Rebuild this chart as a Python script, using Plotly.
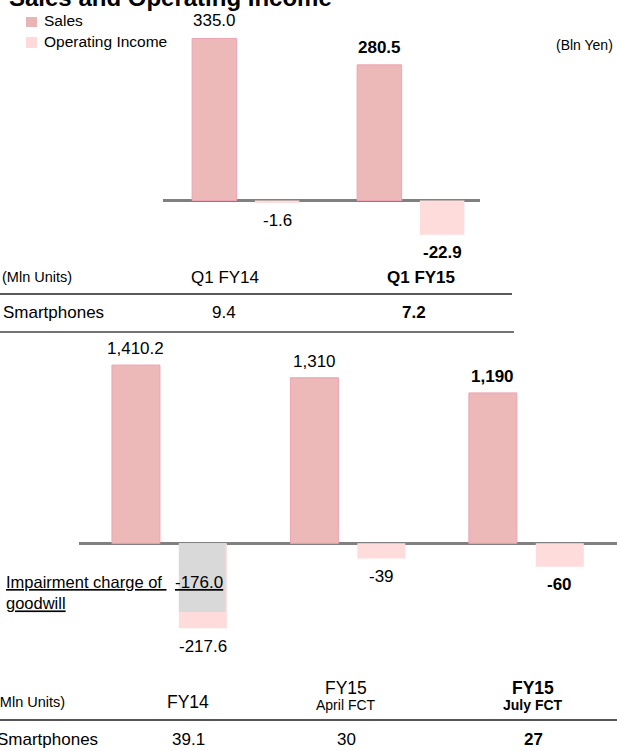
import plotly.graph_objects as go

W, H = 617, 751
FONT = "Liberation Sans, Arial, sans-serif"

# Quarterly results (Bln Yen) and unit sales (Mln Units)
q_periods = ["Q1 FY14", "Q1 FY15"]
q_sales = [335.0, 280.5]
q_op_income = [-1.6, -22.9]
q_decimals = [1, 1]
q_bold = [False, True]
q_smartphones = [9.4, 7.2]

# Full-year results and forecasts (Bln Yen) and unit sales (Mln Units)
fy_periods = ["FY14", "FY15 April FCT", "FY15 July FCT"]
fy_head = ["FY14", "FY15", "FY15"]
fy_sub = ["", "April FCT", "July FCT"]
fy_sales = [1410.2, 1310, 1190]
fy_op_income = [-217.6, -39, -60]
fy_impairment = [-176.0, None, None]
fy_decimals = [1, 0, 0]
fy_bold = [False, False, True]
fy_smartphones = [39.1, 30, 27]

SALES_COLOR = "#ecb8b8"
SALES_EDGE = "#eda4b4"
OI_COLOR = "#ffdcdc"
IMPAIR_COLOR = "#d9d9d9"
TEXT = "#000000"


def px(x):
    return x / W


def py(y):
    return 1 - y / H


def fmt(v, d, bold=False, underline=False):
    s = f"{v:,.{d}f}"
    if underline:
        s = f"<u>{s}</u>"
    return f"<b>{s}</b>" if bold else s


fig = go.Figure()

# --- quarterly bars ---
fig.add_trace(go.Bar(x=q_periods, y=q_sales, xaxis="x", yaxis="y",
                     width=0.27, offset=-0.325,
                     marker=dict(color=SALES_COLOR, line=dict(color=SALES_EDGE, width=1))))
fig.add_trace(go.Bar(x=q_periods, y=q_op_income, xaxis="x", yaxis="y2",
                     width=0.27, offset=0.055,
                     marker=dict(color=OI_COLOR, line=dict(width=0))))

# --- full-year bars ---
fig.add_trace(go.Bar(x=fy_periods, y=fy_sales, xaxis="x2", yaxis="y3",
                     width=0.269, offset=-0.322,
                     marker=dict(color=SALES_COLOR, line=dict(color=SALES_EDGE, width=1))))
fig.add_trace(go.Bar(x=fy_periods, y=fy_op_income, xaxis="x2", yaxis="y4",
                     width=0.269, offset=0.053,
                     marker=dict(color=OI_COLOR, line=dict(width=0))))
fig.add_trace(go.Bar(x=fy_periods, y=fy_impairment, xaxis="x2", yaxis="y4",
                     width=0.262, offset=0.053,
                     marker=dict(color=IMPAIR_COLOR, line=dict(width=0))))

ann = []


def label(text, x, y, xref="paper", yref="paper", size=17, xanchor="center",
          yanchor="middle", xshift=0, yshift=0, align="center"):
    ann.append(dict(text=text, x=x, y=y, xref=xref, yref=yref, showarrow=False,
                    xanchor=xanchor, yanchor=yanchor, xshift=xshift, yshift=yshift,
                    align=align, font=dict(family=FONT, size=size, color=TEXT)))


# value labels on quarterly bars
for p, v, d, b in zip(q_periods, q_sales, q_decimals, q_bold):
    label(fmt(v, d, b), p, v, "x", "y", xshift=-31.4, yshift=17.5)
for p, v, d, b in zip(q_periods, q_op_income, q_decimals, q_bold):
    label(fmt(v, d, b), p, v, "x", "y2", xshift=31.4, yshift=-18)

# value labels on full-year bars
for p, v, d, b in zip(fy_periods, fy_sales, fy_decimals, fy_bold):
    label(fmt(v, d, b), p, v, "x2", "y3", xshift=-33.5, yshift=16.5)
for p, v, d, b in zip(fy_periods, fy_op_income, fy_decimals, fy_bold):
    label(fmt(v, d, b), p, v, "x2", "y4", xshift=33.5, yshift=-18)
for p, v in zip(fy_periods, fy_impairment):
    if v is not None:
        label(fmt(v, 1, underline=True), p, v, "x2", "y4", xshift=29.6, yshift=29)

label("<u>Impairment charge of </u><br><u>goodwill</u>", px(4), py(592),
      size=16.5, xanchor="left", align="left")

# title and legend
label("<b>Sales and Operating Income</b>", px(7), py(-2.5), size=24, xanchor="left")
label("Sales", px(42), py(20.5), size=15.5, xanchor="left")
label("Operating Income", px(42), py(42), size=15.5, xanchor="left")
label("(Bln Yen)", px(554), py(45), size=14, xanchor="left")

# quarterly unit table
label("(Mln Units)", px(0), py(277), size=14.5, xanchor="left")
label("Smartphones", px(1), py(312), size=17, xanchor="left")
for cx, p, b in zip([225, 421], q_periods, q_bold):
    label(f"<b>{p}</b>" if b else p, px(cx), py(277))
for cx, v, d, b in zip([224, 414], q_smartphones, q_decimals, q_bold):
    label(fmt(v, d, b), px(cx), py(312))

# full-year unit table
label("(Mln Units)", px(-7), py(702), size=14.5, xanchor="left")
label("Smartphones", px(-5), py(739), size=17, xanchor="left")
for cx, h, s, b in zip([188, 346, 533], fy_head, fy_sub, fy_bold):
    if s:
        label(f"<b>{h}</b>" if b else h, px(cx), py(688), size=17.5)
        label(f"<b>{s}</b>" if b else s, px(cx), py(705), size=14)
    else:
        label(f"<b>{h}</b>" if b else h, px(cx), py(702), size=17.5)
for cx, v, d, b in zip([188, 346, 533], fy_smartphones, fy_decimals, fy_bold):
    label(fmt(v, d, b), px(cx), py(739))

shapes = [
    dict(type="rect", xref="paper", yref="paper", x0=px(26), x1=px(37), y0=py(27), y1=py(17),
         fillcolor="#e8b4b4", line=dict(width=0)),
    dict(type="rect", xref="paper", yref="paper", x0=px(26), x1=px(37), y0=py(48), y1=py(37),
         fillcolor="#ffdada", line=dict(width=0)),
    dict(type="line", xref="paper", yref="paper", x0=0, x1=px(512), y0=py(294), y1=py(294),
         line=dict(color="#222222", width=1.5)),
    dict(type="line", xref="paper", yref="paper", x0=0, x1=px(514), y0=py(332), y1=py(332),
         line=dict(color="#444444", width=1.5)),
    dict(type="line", xref="paper", yref="paper", x0=0, x1=1, y0=py(720), y1=py(720),
         line=dict(color="#555555", width=2)),
]

hidden_x = dict(type="category", showgrid=False, zeroline=False, showline=False,
                showticklabels=False, ticks="", fixedrange=True)
value_y = dict(showgrid=False, showline=False, showticklabels=False, ticks="",
               zeroline=True, zerolinecolor="#808080", zerolinewidth=2.5)
overlay_y = dict(showgrid=False, showline=False, showticklabels=False, ticks="",
                 zeroline=False)

fig.update_layout(
    width=W, height=H,
    margin=dict(l=0, r=0, t=0, b=0),
    paper_bgcolor="white", plot_bgcolor="rgba(0,0,0,0)",
    barmode="overlay", showlegend=False,
    font=dict(family=FONT, color=TEXT),
    xaxis=dict(hidden_x, domain=[px(163), px(480)], range=[-0.5015, 1.4197], anchor="y"),
    yaxis=dict(value_y, domain=[py(260), py(30)], range=[-123.0, 352.5], anchor="x"),
    yaxis2=dict(overlay_y, overlaying="y", range=[-39.67, 113.67], anchor="x"),
    xaxis2=dict(hidden_x, domain=[px(79), 1.0], range=[-0.5066, 2.508], anchor="y3"),
    yaxis3=dict(value_y, domain=[py(640), py(350)], range=[-765.0, 1529.3], anchor="x2"),
    yaxis4=dict(overlay_y, overlaying="y3", range=[-247.9, 495.6], anchor="x2"),
    annotations=ann,
    shapes=shapes,
)

fig.write_html("out.html")
